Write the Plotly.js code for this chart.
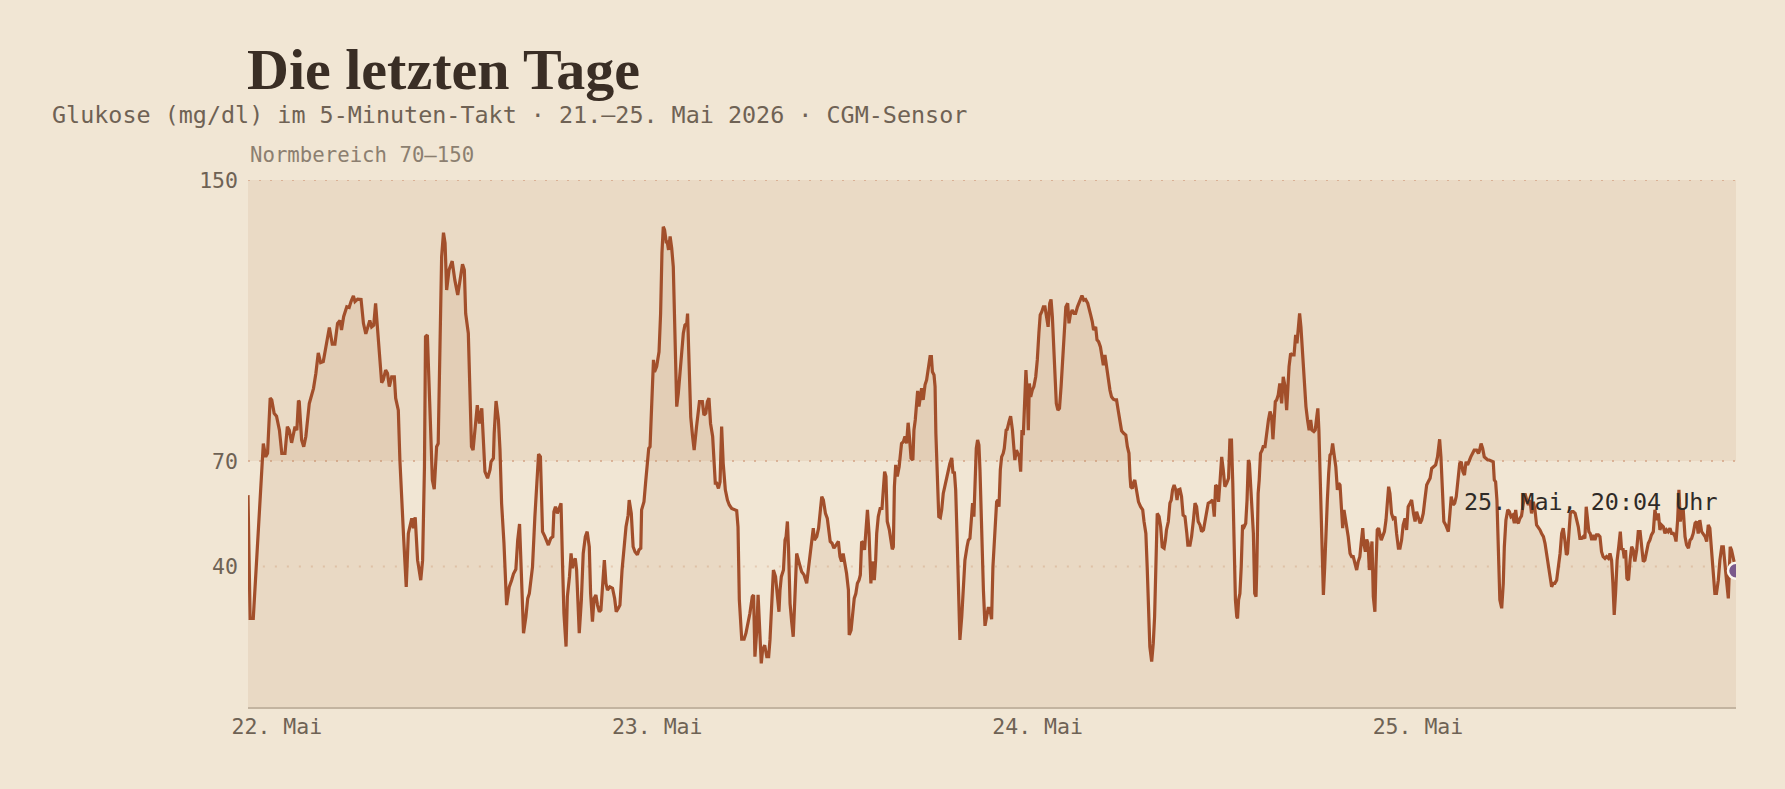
<!DOCTYPE html>
<html>
<head>
<meta charset="utf-8">
<script src="https://cdn.plot.ly/plotly-3.0.1.min.js"></script>
<style>
  html, body { margin: 0; padding: 0; background: #f1e6d4; }
  #chart { width: 1785px; height: 789px; }
</style>
</head>
<body>
<div id="chart"></div>
<script>
// ---- Data ----
// Hours relative to 22. Mai 2026, 00:00 (negative = evening of 21. Mai)
const hoursFromMay22 = [
  -1.82,-1.69,-1.48,-1.06,-0.85,-0.70,-0.58,-0.41,-0.32,-0.16,
  -0.01,0.16,0.31,0.52,0.66,0.79,0.94,1.15,1.27,1.36,
  1.42,1.57,1.70,1.84,2.05,2.31,2.47,2.62,2.77,2.94,
  3.15,3.31,3.50,3.67,3.84,3.99,4.09,4.22,4.41,4.56,
  4.68,4.83,4.93,5.10,5.31,5.46,5.61,5.73,5.86,5.99,
  6.11,6.24,6.34,6.45,6.62,6.72,6.87,6.99,7.10,7.25,
  7.42,7.50,7.67,7.77,7.88,8.00,8.17,8.30,8.51,8.61,
  8.74,8.89,9.08,9.20,9.31,9.39,9.50,9.67,9.81,9.94,
  10.09,10.19,10.30,10.40,10.51,10.61,10.72,10.86,11.07,11.24,
  11.41,11.56,11.71,11.83,11.92,12.08,12.19,12.29,12.38,12.50,
  12.65,12.78,12.93,13.03,13.13,13.30,13.45,13.51,13.66,13.72,
  13.83,13.98,14.08,14.19,14.33,14.50,14.67,14.82,14.94,15.09,
  15.20,15.32,15.45,15.57,15.72,15.83,15.93,16.04,16.14,16.29,
  16.40,16.52,16.63,16.77,16.92,
  17.03,17.13,17.28,17.41,17.49,17.59,17.70,17.80,17.93,18.04,
  18.12,18.25,18.33,18.46,18.56,18.65,18.73,18.83,18.92,19.09,
  19.21,19.34,19.47,19.59,19.72,19.80,19.91,20.01,20.14,20.24,
  20.35,20.45,20.56,20.66,20.77,20.87,21.02,21.19,21.32,21.42,
  21.55,21.65,21.78,21.91,22.03,22.16,22.24,22.37,22.49,22.60,
  22.75,22.85,22.96,23.02,23.17,23.29,23.38,23.46,23.55,23.65,
  23.76,23.84,23.97,24.11,24.22,24.30,24.39,24.47,24.56,24.64,
  24.72,24.81,24.91,25.02,25.12,25.23,25.33,25.48,25.65,25.75,
  25.86,25.92,26.01,26.11,26.24,26.34,26.49,26.66,26.85,26.95,
  27.06,27.16,27.27,27.37,27.50,27.58,27.67,27.75,27.86,27.96,
  28.07,28.17,28.30,28.43,28.55,28.70,28.85,29.01,29.10,29.18,
  29.33,29.48,29.60,29.73,29.85,30.00,30.09,30.17,30.28,30.36,
  30.44,30.57,30.65,30.78,30.91,31.03,31.12,31.20,31.33,31.47,
  31.58,31.69,31.75,31.83,31.96,32.06,32.13,32.21,32.29,32.38,
  32.48,32.59,32.69,32.80,32.97,33.11,33.26,33.37,33.43,33.53,
  33.64,33.74,33.85,33.91,34.06,34.19,34.27,34.38,34.48,34.61,
  34.73,34.82,34.92,35.03,35.15,35.28,35.43,35.53,
  35.64,35.74,35.85,35.95,36.06,36.12,36.23,36.33,36.44,36.54,
  36.63,36.73,36.82,36.90,37.01,37.09,37.17,37.26,37.36,37.49,
  37.57,37.70,37.78,37.85,37.95,38.06,38.18,38.27,38.35,38.44,
  38.52,38.65,38.75,38.84,38.90,38.96,39.05,39.15,39.26,39.34,
  39.42,39.53,39.63,39.74,39.84,39.93,40.01,40.14,40.20,40.29,
  40.35,40.43,40.52,40.60,40.69,40.79,40.90,41.00,41.11,41.21,
  41.30,41.36,41.46,41.53,41.59,41.67,41.76,41.86,41.95,42.05,
  42.16,42.26,42.37,42.47,42.58,42.66,42.75,42.83,42.91,43.02,
  43.10,43.21,43.31,43.42,43.55,43.63,43.73,43.82,43.90,43.99,
  44.05,44.13,44.22,44.30,44.37,44.47,44.58,44.68,44.79,44.89,
  44.99,45.10,45.19,45.31,45.42,45.50,45.56,45.65,45.73,45.84,
  45.90,46.01,46.09,46.20,46.30,46.41,46.49,46.57,46.66,46.76,
  46.85,46.93,47.02,47.10,47.21,47.27,47.36,47.42,47.48,47.56,
  47.67,47.77,47.88,47.98,48.09,48.17,48.26,48.36,48.47,48.57,
  48.66,48.76,48.85,48.93,49.01,49.10,49.18,49.29,49.39,49.48,
  49.58,49.69,49.79,49.90,49.98,50.07,50.19,50.30,50.40,50.51,
  50.61,50.72,50.80,50.91,51.03,51.16,51.26,51.35,51.45,51.54,
  51.66,51.75,51.85,51.96,52.04,52.15,52.25,52.36,52.46,52.57,
  52.67,52.78,52.88,52.99,53.09,53.20,53.30,53.43,53.56,53.66,
  53.77,53.83,53.89,53.98,54.04,54.14,
  54.25,54.36,54.50,54.63,54.71,54.84,54.92,55.01,55.09,55.20,
  55.30,55.39,55.47,55.55,55.66,55.76,55.87,55.98,56.06,56.14,
  56.25,56.35,56.44,56.52,56.61,56.71,56.80,56.88,56.98,57.09,
  57.19,57.30,57.41,57.49,57.62,57.72,57.83,57.93,58.04,58.14,
  58.25,58.35,58.46,58.56,58.67,58.77,58.92,59.05,59.15,59.23,
  59.34,59.42,59.51,59.61,59.72,59.82,59.93,60.05,60.14,60.24,
  60.31,60.39,60.48,60.56,60.62,60.69,60.77,60.85,60.94,61.04,
  61.13,61.21,61.30,61.36,61.44,61.53,61.61,61.70,61.78,61.84,
  61.91,61.99,62.07,62.16,62.24,62.35,62.45,62.56,62.66,62.77,
  62.85,62.91,63.00,63.08,63.19,63.29,63.40,63.50,63.61,63.71,
  63.78,63.86,63.97,64.07,64.18,64.28,64.37,64.45,64.53,64.62,
  64.70,64.77,64.85,64.93,65.04,65.14,65.23,65.31,65.44,65.52,
  65.61,65.69,65.75,65.84,65.92,66.03,66.11,66.20,66.28,66.36,
  66.45,66.53,66.62,66.70,66.81,66.91,67.00,67.08,67.16,67.25,
  67.33,67.42,67.50,67.60,67.71,67.81,67.92,68.03,68.13,68.24,
  68.34,68.42,68.51,68.59,68.68,68.76,68.85,68.93,69.01,69.10,
  69.18,69.29,69.35,69.43,69.52,69.60,69.69,69.77,69.88,69.98,
  70.07,70.15,70.23,70.34,70.44,70.55,70.65,70.76,70.86,70.97,
  71.07,71.18,71.28,71.39,71.50,71.60,71.71,71.81,71.92,72.02,
  72.13,72.23,72.34,72.44,72.55,72.65,72.76,
  72.86,72.97,73.11,73.24,73.37,73.45,73.54,73.64,73.75,73.83,
  73.91,74.02,74.10,74.21,74.31,74.42,74.52,74.63,74.73,74.84,
  74.94,75.03,75.13,75.24,75.34,75.45,75.55,75.70,75.81,75.87,
  75.98,76.08,76.19,76.29,76.40,76.50,76.61,76.75,76.82,76.90,
  76.98,77.07,77.17,77.28,77.38,77.45,77.55,77.66,77.76,77.87,
  77.97,78.08,78.16,78.25,78.33,78.44,78.54,78.65,78.75,78.86,
  78.96,79.07,79.17,79.28,79.38,79.49,79.59,79.70,79.80,79.91,
  80.01,80.12,80.22,80.33,80.43,80.54,80.64,80.75,80.85,80.96,
  81.06,81.17,81.27,81.36,81.44,81.53,81.61,81.70,81.80,81.91,
  82.01,82.12,82.22,82.33,82.43,82.54,82.62,82.71,82.79,82.87,
  82.96,83.06,83.17,83.27,83.38,83.48,83.59,83.69,83.80,83.90,
  84.01,84.11,84.22,84.30,84.39,84.47,84.56,84.66,84.77,84.85,
  84.93,85.02,85.10,85.19,85.29,85.38,85.48,85.59,85.69,85.80,
  85.90,86.01,86.11,86.22,86.32,86.43,86.53,86.64,86.74,86.85,
  86.95,87.06,87.16,87.27,87.37,87.48,87.58,87.69,87.79,87.90,
  88.00,88.11,88.21,88.28,88.38,88.47,88.55,88.64,88.74,88.85,
  88.95,89.06,89.16,89.27,89.37,89.48,89.58,89.69,89.79,89.90,
  90.00,90.11,90.21,90.32,90.42,90.53,90.63,90.74,90.84,90.95,
  91.05,91.16,91.26,91.37,91.47,91.58,91.64,91.70,91.79,91.89,
  92.067
];

// Glucose in mg/dl
const glucose = [
  60.3,25.2,25.2,58.9,75.0,71.2,72.2,87.9,87.4,83.6,
  82.8,78.8,72.2,72.2,79.8,78.8,75.2,79.8,78.8,87.2,
  86.9,76.0,74.1,77.0,86.4,90.7,95.0,100.8,98.0,98.3,
  104.5,108.0,103.3,103.3,109.2,110.0,107.3,111.1,113.9,113.7,
  115.4,117.0,115.4,116.1,116.0,109.2,106.2,107.8,110.0,108.2,
  108.7,114.9,108.7,100.6,92.3,93.1,95.9,95.0,91.2,94.0,
  94.0,87.9,84.5,70.3,57.0,48.5,34.2,49.4,53.7,50.9,
  54.0,41.8,36.1,41.8,68.4,105.4,105.9,81.7,64.6,62.0,
  74.1,75.0,102.5,128.2,135.0,132.0,118.7,124.4,126.9,121.5,
  117.3,122.5,126.0,124.4,112.0,106.4,91.2,74.1,73.1,77.9,
  85.9,80.7,85.0,76.0,67.0,65.1,67.5,69.8,70.8,77.9,
  87.1,81.7,73.1,58.0,46.6,29.0,34.2,36.1,37.9,39.2,
  47.5,52.1,35.2,21.0,25.7,30.9,32.3,37.1,39.9,54.2,
  64.6,72.0,71.2,49.9,48.5,
  47.1,46.1,48.0,48.5,55.6,57.0,55.1,56.1,58.0,39.9,
  26.7,17.2,31.4,37.1,43.7,39.5,41.4,42.3,39.0,21.0,
  30.5,43.7,48.5,49.9,45.6,32.3,24.3,30.9,31.9,29.0,
  27.1,27.6,37.1,41.8,35.2,33.3,34.2,33.8,30.9,27.1,
  28.1,29.0,39.0,44.7,51.3,54.6,58.9,55.1,45.6,44.2,
  43.3,44.7,45.2,56.1,58.4,64.6,71.2,73.6,74.1,87.4,
  98.8,95.4,96.9,101.1,112.0,129.1,136.7,135.8,132.4,132.4,
  130.1,133.9,130.6,125.3,101.6,85.5,89.3,97.8,106.4,108.7,
  109.2,112.0,99.7,82.6,77.0,73.1,79.8,86.9,86.9,83.1,
  83.6,86.9,87.9,80.7,77.0,70.3,63.7,63.7,62.2,64.1,
  79.8,69.3,61.8,58.9,57.5,56.5,56.1,55.9,51.3,30.5,
  19.3,19.3,21.0,23.8,26.7,31.4,31.9,14.3,21.9,31.9,
  23.8,12.4,16.2,17.6,14.3,14.3,19.1,28.5,39.0,37.1,
  32.3,27.1,33.3,37.1,39.0,47.5,48.5,52.8,45.6,29.5,
  24.3,20.0,30.5,43.7,40.9,38.5,37.6,36.1,35.2,39.0,
  42.3,46.6,50.9,47.5,48.5,50.9,55.1,59.9,58.9,55.1,
  53.7,51.3,47.1,46.6,45.2,46.1,47.1,42.8,
  41.4,43.7,40.9,38.0,33.3,20.5,21.9,26.7,30.9,32.3,
  35.2,36.1,37.6,47.1,46.6,44.7,49.4,56.1,49.4,35.2,
  41.4,36.1,41.8,49.4,54.2,56.5,56.5,61.8,67.0,65.6,
  52.8,50.4,47.5,44.9,45.6,62.7,68.9,65.6,68.4,72.2,
  75.0,75.5,77.0,75.0,80.9,76.0,70.8,70.3,78.8,81.7,
  85.5,90.0,85.5,88.3,90.7,87.4,91.7,93.1,96.4,99.7,
  99.7,95.4,94.5,91.2,77.9,65.6,54.2,53.9,56.1,60.8,
  63.5,65.1,67.0,69.3,70.9,66.5,67.0,61.8,49.4,30.5,
  19.1,25.7,33.3,41.8,45.6,47.5,48.0,53.2,58.0,54.2,
  63.7,73.6,76.0,74.6,67.5,49.4,33.3,23.1,26.2,28.1,
  28.1,25.0,39.9,50.4,58.4,58.9,57.0,67.5,71.2,72.2,
  73.6,78.8,79.0,81.2,82.8,78.8,74.1,70.3,73.1,72.2,
  71.2,67.0,78.8,77.4,90.2,95.9,87.4,78.8,92.1,88.3,
  90.2,91.2,94.0,98.8,106.4,111.6,112.5,113.9,113.9,111.1,
  108.2,114.9,116.0,111.1,101.6,92.1,86.4,84.5,85.0,91.2,
  99.7,109.2,113.9,114.9,109.2,111.6,113.0,112.0,112.0,113.9,
  114.9,116.0,117.1,115.8,116.0,114.9,113.5,111.6,109.7,107.3,
  108.2,104.5,104.0,102.5,100.6,97.3,100.2,95.9,93.5,90.2,
  88.3,87.6,87.4,87.4,84.5,81.2,78.6,77.9,77.4,74.1,
  72.2,65.6,62.7,62.2,63.7,64.6,
  61.8,58.4,57.0,56.1,52.8,49.4,39.9,24.7,17.2,12.9,
  18.1,25.7,39.9,55.1,54.2,51.3,45.6,45.2,47.5,50.4,
  52.8,58.0,58.9,61.8,63.2,61.8,58.9,61.8,62.0,59.9,
  54.6,54.2,49.4,46.1,46.1,48.5,53.2,58.0,57.0,52.8,
  51.8,49.9,50.4,53.2,56.1,58.0,58.4,58.9,54.2,63.2,
  62.7,58.4,64.6,71.2,67.5,62.7,63.7,65.1,76.0,76.0,
  63.7,49.4,30.5,25.7,25.2,30.5,32.3,39.9,51.8,51.3,
  52.3,58.9,70.3,69.3,62.7,57.0,49.4,32.3,31.4,39.9,
  60.8,64.6,72.2,73.1,74.1,74.1,77.9,81.7,84.1,82.6,
  76.2,81.7,86.9,87.4,88.8,92.1,86.4,94.0,91.2,84.5,
  91.2,96.9,100.6,100.2,100.2,105.9,103.5,107.3,112.0,108.2,
  101.6,97.8,90.2,85.5,81.7,78.8,81.7,78.8,78.4,78.8,
  82.6,85.0,78.8,65.6,49.4,31.9,39.9,51.3,58.9,66.5,
  71.7,72.2,75.0,72.2,68.4,61.8,63.7,63.2,56.1,50.9,
  56.1,53.7,51.8,48.5,43.7,42.8,42.8,40.4,39.0,41.4,
  42.8,46.6,50.9,46.6,44.2,47.7,46.6,39.0,43.7,47.1,
  31.4,27.1,39.9,50.4,50.9,49.4,47.5,48.5,49.9,53.2,
  57.0,62.7,60.8,55.1,53.7,54.2,49.4,45.2,45.2,47.5,
  51.8,53.7,50.4,57.0,58.0,58.9,55.1,52.8,55.6,53.7,
  52.3,53.2,55.1,58.9,63.2,64.1,65.1,
  67.9,68.4,68.9,71.2,76.2,71.2,62.7,52.8,51.8,50.9,
  49.9,55.1,59.9,57.5,58.0,59.9,64.6,69.3,69.8,67.0,
  66.0,69.8,68.9,70.3,71.2,72.2,73.1,73.1,72.2,72.7,
  75.0,73.6,71.2,70.8,70.3,70.3,70.1,69.8,64.6,64.1,
  58.9,44.7,30.5,28.1,35.2,45.6,53.2,56.1,55.6,54.2,
  54.6,52.3,56.1,52.8,52.3,53.7,54.4,58.0,60.8,58.9,
  57.5,58.9,55.1,58.4,56.1,51.8,51.3,50.4,49.4,48.5,
  46.6,43.7,39.9,36.1,34.2,35.2,35.2,36.1,39.0,43.7,
  49.4,50.9,47.5,43.3,43.7,49.4,55.1,55.6,55.6,55.1,
  53.2,51.3,48.0,48.0,48.5,48.0,57.0,50.9,49.9,49.4,
  47.5,49.0,47.5,49.0,49.0,48.5,44.2,42.8,42.3,42.8,
  42.3,43.7,41.8,35.2,26.2,32.3,41.8,45.6,49.9,44.7,
  45.2,42.3,44.7,36.6,36.1,41.8,45.6,44.7,41.4,44.7,
  49.9,49.9,45.2,41.4,41.8,44.7,46.6,47.5,49.0,49.9,
  56.1,53.2,55.1,50.4,51.8,51.3,49.4,50.4,49.9,50.9,
  49.4,49.4,48.5,47.1,53.2,61.8,52.8,55.1,56.5,48.5,
  46.1,45.2,47.5,48.0,49.4,52.3,52.8,49.4,53.2,49.9,
  49.4,48.5,47.1,51.8,50.9,43.7,39.0,32.3,32.3,36.1,
  41.8,45.6,45.6,41.8,36.1,30.9,37.1,45.6,44.7,42.3,
  38.8
];

const normRange = [70, 150];
const yTickValues = [40, 70, 150];
const yRange = [0, 150];
const xTickDays = ['2026-05-22', '2026-05-23', '2026-05-24', '2026-05-25'];
const xTickLabels = ['22. Mai', '23. Mai', '24. Mai', '25. Mai'];
const titleText = 'Die letzten Tage';
const subtitleText = 'Glukose (mg/dl) im 5-Minuten-Takt · 21.–25. Mai 2026 · CGM-Sensor';
const bandLabel = 'Normbereich 70–150';
const lastLabel = '25. Mai, 20:04 Uhr';

// ---- Build ----
const DAY0 = Date.UTC(2026, 4, 22);
const toTime = h => new Date(DAY0 + Math.round(h * 60) * 60000).toISOString().slice(0, 16).replace('T', ' ');
const times = hoursFromMay22.map(toTime);
const n = times.length;
const lastT = times[n - 1], lastV = glucose[n - 1];

const mono = '"DejaVu Sans Mono", "Liberation Mono", monospace';
const lineColor = '#a24f2b';

const traces = [
  {
    type: 'scatter', mode: 'lines', x: times, y: glucose,
    line: { color: lineColor, width: 3.2, shape: 'linear' },
    fill: 'tozeroy', fillcolor: 'rgba(168,110,60,0.10)',
    hoverinfo: 'x+y', showlegend: false
  },
  {
    type: 'scatter', mode: 'markers', x: [lastT], y: [lastV],
    marker: { color: '#7b5a8c', size: 16, line: { color: '#fbf6ee', width: 2.5 } },
    hoverinfo: 'skip', showlegend: false
  }
];

const layout = {
  width: 1785, height: 789,
  paper_bgcolor: '#f1e6d4', plot_bgcolor: '#f1e6d4',
  margin: { l: 248, r: 49, t: 180, b: 82 },
  showlegend: false,
  title: {
    text: titleText,
    font: { family: '"Liberation Serif", serif', size: 58, color: '#3a2e25', weight: 700 },
    xref: 'container', x: 247 / 1785, xanchor: 'left',
    yref: 'container', y: 1 - 69 / 789, yanchor: 'middle'
  },
  xaxis: {
    type: 'date',
    range: [times[0], lastT],
    tickvals: xTickDays, ticktext: xTickLabels,
    showgrid: false, zeroline: false,
    showline: true, linecolor: '#c3b4a0', linewidth: 2,
    ticks: '', ticklabelstandoff: -1,
    tickfont: { family: mono, size: 21.5, color: '#6e6254' },
    fixedrange: true
  },
  yaxis: {
    range: yRange, tickvals: yTickValues,
    showgrid: false, zeroline: false, showline: false,
    ticks: '', ticklabelstandoff: 9,
    tickfont: { family: mono, size: 21.5, color: '#6e6254' },
    fixedrange: true
  },
  shapes: [
    { type: 'rect', xref: 'paper', yref: 'y', x0: 0, x1: 1, y0: normRange[0], y1: normRange[1],
      fillcolor: 'rgba(175,120,70,0.10)', line: { width: 0 }, layer: 'below' },
    { type: 'line', xref: 'paper', yref: 'y', x0: 0.01, x1: 1, y0: yTickValues[0], y1: yTickValues[0],
      line: { color: 'rgba(215,170,140,0.45)', width: 2, dash: '2px,10px' }, layer: 'below' },
    { type: 'line', xref: 'paper', yref: 'y', x0: 0, x1: 1, y0: normRange[0], y1: normRange[0],
      line: { color: 'rgba(210,160,130,0.7)', width: 2, dash: '2px,9px' }, layer: 'below' },
    { type: 'line', xref: 'paper', yref: 'y', x0: 0, x1: 1, y0: normRange[1], y1: normRange[1],
      line: { color: 'rgba(210,160,130,0.7)', width: 2, dash: '2px,9px' }, layer: 'below' }
  ],
  annotations: [
    { text: subtitleText, xref: 'paper', yref: 'paper', x: -0.1331, y: 1.1233,
      xanchor: 'left', yanchor: 'middle', showarrow: false,
      font: { family: mono, size: 23.4, color: '#6f6254' } },
    { text: bandLabel, xref: 'paper', yref: 'paper', x: 0, y: 1.0474,
      xanchor: 'left', yanchor: 'middle', showarrow: false,
      font: { family: mono, size: 20.7, color: '#8c7f70' } },
    { text: lastLabel, xref: 'x', yref: 'y', x: lastT, y: lastV,
      xanchor: 'right', yanchor: 'middle', xshift: -17, yshift: 69, showarrow: false,
      font: { family: mono, size: 23.4, color: '#2f2a26' } }
  ],
  hovermode: false
};

Plotly.newPlot('chart', traces, layout, { displayModeBar: false, staticPlot: true });
</script>
</body>
</html>
